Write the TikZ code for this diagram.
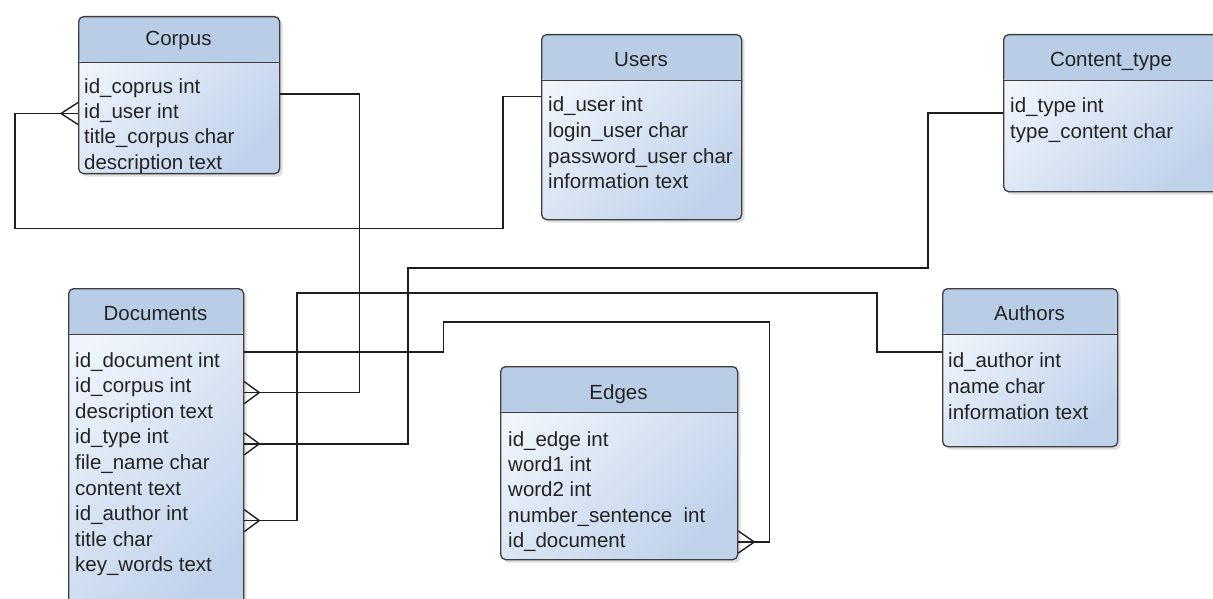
\documentclass[tikz,border=0pt]{standalone}
\usepackage{fontspec}
\setmainfont{Liberation Sans}
\usetikzlibrary{shadows}
\definecolor{hdrblue}{RGB}{185,205,231}
\definecolor{bodylight}{RGB}{240,245,251}
\definecolor{bodydark}{RGB}{192,210,235}
\definecolor{framegray}{RGB}{62,62,62}
\definecolor{txtgray}{RGB}{35,35,35}

\begin{document}
\begin{tikzpicture}[x=1pt,y=-1pt,
  every node/.style={font=\fontsize{20.5}{25}\selectfont, text=txtgray},
  tbl/.style={draw=framegray, line width=1.3pt, rounded corners=5pt, anchor=north west,
    top color=bodylight, bottom color=bodydark, shading angle=45,
    drop shadow={shadow xshift=3pt, shadow yshift=-3pt, opacity=0.25},
    path picture={
      \fill[hdrblue] (path picture bounding box.north west) rectangle ([yshift=-46pt]path picture bounding box.north east);
      \draw[framegray, line width=1.3pt] ([yshift=-46pt]path picture bounding box.north west) -- ([yshift=-46pt]path picture bounding box.north east);}},
  ttl/.style={inner sep=0pt, anchor=base},
  row/.style={inner sep=0pt, anchor=base west, text height=15pt, text depth=4pt},
  conn/.style={draw=black!88, line width=1.4pt}]
\useasboundingbox (0,0) rectangle (1213,599);

\node[tbl, minimum width=201pt, minimum height=157pt] (corpus) at (78,16) {};
\node[ttl] (corpusT) at (178.5,46) {Corpus};
\node[row] (cp1) at (84,94) {id\_coprus int};
\node[row] (cp2) at (84,119) {id\_user int};
\node[row] (cp3) at (84,144) {title\_corpus char};
\node[row] (cp4) at (84,169) {description text};

\node[tbl, minimum width=200pt, minimum height=185pt] (users) at (541,34) {};
\node[ttl] (usersT) at (641,67) {Users};
\node[row] (us1) at (548,112) {id\_user int};
\node[row] (us2) at (548,138) {login\_user char};
\node[row] (us3) at (548,164) {password\_user char};
\node[row] (us4) at (548,189) {information text};

\node[tbl, minimum width=216pt, minimum height=157pt] (ctype) at (1003,34) {};
\node[ttl] (ctypeT) at (1111,67) {Content\_type};
\node[row] (ct1) at (1010,113) {id\_type int};
\node[row] (ct2) at (1010,139) {type\_content char};

\node[tbl, minimum width=175pt, minimum height=330pt] (docs) at (68,288) {};
\node[ttl] (docsT) at (155.5,320) {Documents};
\node[row] (dc1) at (75,367) {id\_document int};
\node[row] (dc2) at (75,392.6) {id\_corpus int};
\node[row] (dc3) at (75,418.2) {description text};
\node[row] (dc4) at (75,443.8) {id\_type int};
\node[row] (dc5) at (75,469.4) {file\_name char};
\node[row] (dc6) at (75,495) {content text};
\node[row] (dc7) at (75,520.6) {id\_author int};
\node[row] (dc8) at (75,546.2) {title char};
\node[row] (dc9) at (75,571.8) {key\_words text};

\node[tbl, minimum width=237pt, minimum height=193pt] (edges) at (500,366) {};
\node[ttl] (edgesT) at (618.5,399) {Edges};
\node[row] (ed1) at (508,446) {id\_edge int};
\node[row] (ed2) at (508,471) {word1 int};
\node[row] (ed3) at (508,496) {word2 int};
\node[row] (ed4) at (508,522) {number\_sentence\ \ int};
\node[row] (ed5) at (508,547) {id\_document};

\node[tbl, minimum width=175pt, minimum height=158pt] (authors) at (942,288) {};
\node[ttl] (authorsT) at (1029.5,320) {Authors};
\node[row] (au1) at (948,367) {id\_author int};
\node[row] (au2) at (948,393) {name char};
\node[row] (au3) at (948,419) {information text};

\draw[conn] (corpus.west |- cp2) -- ++(-63,0) -- ++(0,115) -| ([xshift=-38pt]users.west |- us1.north) -- (users.west |- us1.north);
\draw[conn] (corpus.west |- cp2) ++(0,-11) -- ++(-17,11) -- ++(17,11);
\draw[conn] (corpus.east |- cp1.base) -- ++(79,0) |- (docs.east |- dc2.base);
\draw[conn] (docs.east |- dc2.base) ++(0,-11) -- ++(15,11) -- ++(-15,11);
\draw[conn] (ctype.west |- ct1.base) -- ++(-75,0) -- ++(0,155) -- ++(-520,0) |- (docs.east |- dc4.base);
\draw[conn] (docs.east |- dc4.base) ++(0,-11) -- ++(15,11) -- ++(-15,11);
\draw[conn] (authors.west |- au1.north) -- ++(-65,0) -- ++(0,-59) -- ++(-580,0) |- (docs.east |- dc7.base);
\draw[conn] (docs.east |- dc7.base) ++(0,-11) -- ++(15,11) -- ++(-15,11);
\draw[conn] (docs.east |- dc1.north) -- ++(199,0) -- ++(0,-30) -- ++(326,0) |- ([yshift=5pt]ed5.base -| edges.east);
\draw[conn] ([yshift=5pt]ed5.base -| edges.east) ++(0,-11) -- ++(16,11) -- ++(-16,11);
\end{tikzpicture}
\end{document}
